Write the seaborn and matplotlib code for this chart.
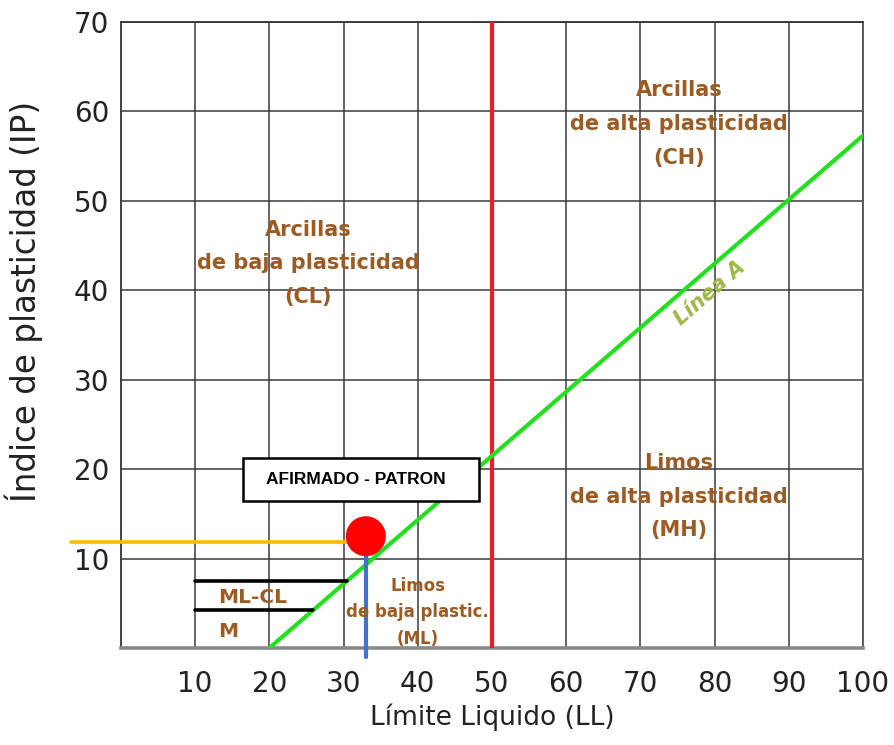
import matplotlib
matplotlib.use("Agg")
import matplotlib.pyplot as plt
import seaborn as sns
from matplotlib import font_manager
from matplotlib.patches import Rectangle

ll_ticks = [10, 20, 30, 40, 50, 60, 70, 80, 90, 100]
ip_ticks = [10, 20, 30, 40, 50, 60, 70]

linea_a_ll = [20, 100]
linea_a_ip = [0, 57.3]

linea_b_ll = [50, 50]
linea_b_ip = [0, 70]

mlcl_sup_ll = [10, 30.4]
mlcl_sup_ip = [7.5, 7.5]
mlcl_inf_ll = [10, 25.9]
mlcl_inf_ip = [4.3, 4.3]

muestra_ll = [33.0]
muestra_ip = [12.5]
guia_ip_ll = [-6.7, 30.4]
guia_ip_ip = [11.9, 11.9]
guia_ll_ll = [33.0, 33.0]
guia_ll_ip = [-1.0, 12.5]

zonas = ["Arcillas\nde baja plasticidad\n(CL)",
         "Arcillas\nde alta plasticidad\n(CH)",
         "Limos\nde alta plasticidad\n(MH)"]
zonas_ll = [25.2, 75.2, 75.2]
zonas_ip = [43.0, 58.6, 16.9]

sns.set_style("white")
plt.rcParams["font.family"] = ["DejaVu Sans"]

nombres = {f.name for f in font_manager.fontManager.ttflist}
if "Liberation Sans Narrow" in nombres:
    fuente_caja, tam_caja = "Liberation Sans Narrow", 15
else:
    fuente_caja, tam_caja = "Liberation Sans", 12.5

fig = plt.figure(figsize=(8.94, 7.45), dpi=100)
ax = fig.add_axes([0.1353, 0.1302, 0.830, 0.8403])

marron = "#9C5B23"


def linea(xs, ys, **kw):
    sns.lineplot(x=xs, y=ys, ax=ax, estimator=None, sort=False, **kw)


linea(linea_b_ll, linea_b_ip, color="#EE1C25", lw=3, zorder=3)
linea(linea_a_ll, linea_a_ip, color="#22E01E", lw=3, zorder=3)
linea(mlcl_sup_ll, mlcl_sup_ip, color="black", lw=2.6, zorder=3)
linea(mlcl_inf_ll, mlcl_inf_ip, color="black", lw=2.6, zorder=3)
linea(guia_ip_ll, guia_ip_ip, color="#FFB900", lw=2.6, zorder=4, clip_on=False)
linea(guia_ll_ll, guia_ll_ip, color="#4472C4", lw=3, zorder=4, clip_on=False)
sns.scatterplot(x=muestra_ll, y=muestra_ip, ax=ax, color="#FF0000", s=830,
                edgecolor="none", zorder=5)

ax.set_xlim(0, 100)
ax.set_ylim(0, 70)
ax.set_xticks(ll_ticks)
ax.set_yticks(ip_ticks)
ax.set_xticklabels([str(v) for v in ll_ticks])
ax.set_yticklabels([str(v) for v in ip_ticks])
ax.tick_params(axis="x", length=0, pad=16, labelsize=20, labelcolor="#222222")
ax.tick_params(axis="y", length=0, pad=8.5, labelsize=20, labelcolor="#222222")
ax.grid(True, color="#3a3a3a", lw=1.1)
ax.set_axisbelow(True)

for lado, col, ancho in [("left", "#333333", 1.3), ("top", "#333333", 1.3),
                         ("right", "#555555", 1.3), ("bottom", "#8a8a8a", 2.6)]:
    ax.spines[lado].set_visible(True)
    ax.spines[lado].set_color(col)
    ax.spines[lado].set_linewidth(ancho)

ax.set_xlabel("Límite Liquido (LL)", fontsize=19, color="#222222")
ax.set_ylabel("Índice de plasticidad (IP)", fontsize=23.5, color="#222222")
ax.xaxis.set_label_coords(0.5, -0.088)
ax.yaxis.set_label_coords(-0.105, 0.553)

for txt, x, y in zip(zonas, zonas_ll, zonas_ip):
    ax.text(x, y, txt, ha="center", va="center", fontsize=15, fontweight="bold",
            color=marron, linespacing=1.85, zorder=6)

ax.text(40, 4.0, "Limos\nde baja plastic.\n(ML)", ha="center", va="center", fontsize=12,
        fontweight="bold", color=marron, linespacing=1.6, zorder=6)
ax.text(13.1, 5.7, "ML-CL", ha="left", va="center", fontsize=14.5, fontweight="bold",
        color=marron, zorder=6)
ax.text(13.1, 1.8, "M", ha="left", va="center", fontsize=14.5, fontweight="bold",
        color=marron, zorder=6)

ax.text(79.4, 39.7, "Línea A", ha="center", va="center", rotation=41, rotation_mode="anchor",
        fontsize=15, fontweight="bold", fontstyle="italic", color="#9CB845", zorder=6)

ax.add_patch(Rectangle((16.4, 16.4), 31.9, 4.9, facecolor="white", edgecolor="black",
                       lw=1.8, zorder=6))
ax.text(31.6, 18.85, "AFIRMADO - PATRON", ha="center", va="center", fontsize=tam_caja,
        fontweight="bold", family=fuente_caja, color="black", zorder=7)

fig.savefig("out.png", dpi=100)
plt.close(fig)
